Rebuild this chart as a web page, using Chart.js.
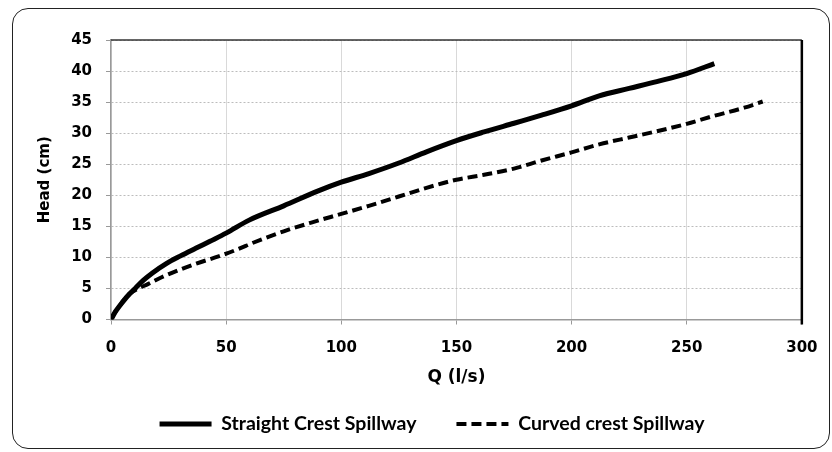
<!DOCTYPE html>
<html>
<head>
<meta charset="utf-8">
<script src="https://cdn.jsdelivr.net/npm/chart.js@4.4.0/dist/chart.umd.min.js"></script>
<style>
    html, body { margin: 0; padding: 0; background: #fff; }
    #wrap { position: relative; width: 832px; height: 452px; }
    #frame { position: absolute; left: 12px; top: 8px; width: 818px; height: 441px; border: 1px solid #222; border-radius: 16px; box-sizing: border-box; }
    #chart { position: absolute; left: 0; top: 0; }
</style>
</head>
<body>
<div id="wrap">
    <div id="frame"></div>
    <canvas id="chart" width="832" height="452"></canvas>
</div>
<script>
// discharge Q (l/s) and head (cm)
const straight_q = [0, 2, 5, 8, 10.5, 14, 18, 24, 30, 37, 43, 50, 60, 75, 90, 100, 112, 125, 137, 150, 162, 175, 187, 200, 212, 225, 237, 250, 262];
const straight_h = [0, 1.3, 2.8, 4.1, 5, 6.3, 7.5, 9, 10.2, 11.5, 12.6, 13.9, 16, 18.3, 20.7, 22.1, 23.5, 25.2, 27, 28.8, 30.2, 31.6, 32.9, 34.4, 36, 37.2, 38.3, 39.6, 41.2];

const curved_q = [0, 2, 5, 8, 12, 16, 22, 29, 37, 47, 55, 62, 75, 87, 100, 112, 125, 137, 150, 162, 175, 187, 200, 212, 225, 237, 250, 262, 275, 283];
const curved_h = [0, 1.3, 2.8, 4.1, 5, 5.7, 6.8, 7.9, 9, 10.2, 11.3, 12.4, 14.2, 15.6, 17, 18.3, 19.8, 21.2, 22.5, 23.3, 24.3, 25.6, 26.9, 28.2, 29.3, 30.3, 31.5, 32.8, 34.1, 35.1];

const x_ticks = [0, 50, 100, 150, 200, 250, 300];
const y_ticks = [0, 5, 10, 15, 20, 25, 30, 35, 40, 45];

const labels = ['Straight Crest Spillway', 'Curved crest Spillway'];

function toPoints(qs, hs) {
    let pts = [];
    qs.forEach((q, i) => {
        pts.push({x: q, y: hs[i]});
    });
    return pts;
}

const tickFont = {family: 'DejaVu Sans', size: 15, weight: 'bold'};

// top + right frame of the plot area
const plotFrame = {
    id: 'plotFrame',
    afterDraw(chart) {
        const {ctx, chartArea: a} = chart;
        ctx.save();
        ctx.strokeStyle = '#333';
        ctx.lineWidth = 1.5;
        ctx.beginPath();
        ctx.moveTo(a.left, a.top);
        ctx.lineTo(a.right, a.top);
        ctx.stroke();
        ctx.strokeStyle = '#000';
        ctx.lineWidth = 2.5;
        ctx.beginPath();
        ctx.moveTo(a.right, a.top);
        ctx.lineTo(a.right, a.bottom + 5);
        ctx.stroke();
        ctx.restore();
    }
};

const ctx = document.getElementById('chart').getContext('2d');

new Chart(ctx, {
    type: 'line',
    data: {
        datasets: [
            {
                label: labels[0],
                data: toPoints(straight_q, straight_h),
                borderColor: '#000',
                backgroundColor: '#000',
                borderWidth: 5,
                pointRadius: 0,
                tension: 0.4,
                cubicInterpolationMode: 'monotone'
            },
            {
                label: labels[1],
                data: toPoints(curved_q, curved_h),
                borderColor: '#000',
                backgroundColor: '#000',
                borderWidth: 4,
                borderDash: [10, 5],
                pointRadius: 0,
                tension: 0.4,
                cubicInterpolationMode: 'monotone'
            }
        ]
    },
    options: {
        responsive: false,
        animation: false,
        layout: {
            padding: {left: 62, top: 40, right: 30, bottom: 8.25}
        },
        plugins: {
            tooltip: {enabled: false},
            legend: {
                position: 'bottom',
                labels: {
                    usePointStyle: true,
                    pointStyle: 'line',
                    pointStyleWidth: 52,
                    padding: 40,
                    color: '#000',
                    font: {family: 'Lato', size: 19.5, weight: 'bold'},
                    generateLabels: (chart) => {
                        let items = Chart.defaults.plugins.legend.labels.generateLabels(chart);
                        items.forEach((item, i) => {
                            const ds = chart.data.datasets[i];
                            item.lineDash = ds.borderDash || [];
                            item.lineWidth = ds.borderWidth;
                            item.strokeStyle = ds.borderColor;
                        });
                        return items;
                    }
                }
            }
        },
        scales: {
            x: {
                type: 'linear',
                min: 0,
                max: 300,
                afterBuildTicks: (scale) => { scale.ticks = x_ticks.map(v => ({value: v})); },
                afterFit: (scale) => { scale.height = 54.75; },
                ticks: {color: '#000', font: tickFont, padding: 14.5},
                grid: {color: '#d9d9d9', lineWidth: 1, tickLength: 5, tickColor: '#999'},
                border: {color: '#999', width: 1.5},
                title: {
                    display: true,
                    text: 'Q (l/s)',
                    color: '#000',
                    font: {family: 'DejaVu Sans', size: 17, weight: 'bold'},
                    padding: {top: 0, bottom: -14}
                }
            },
            y: {
                min: 0,
                max: 45,
                afterBuildTicks: (scale) => { scale.ticks = y_ticks.map(v => ({value: v})); },
                afterFit: (scale) => { scale.width = 49; },
                ticks: {color: '#000', font: tickFont, padding: 14},
                grid: {color: '#bcbcbc', lineWidth: 1, tickLength: 5, tickColor: '#999'},
                border: {color: '#999', width: 1.5, dash: [2, 2]},
                title: {
                    display: true,
                    text: 'Head (cm)',
                    color: '#000',
                    font: {family: 'DejaVu Sans', size: 15, weight: 'bold'},
                    padding: {top: -26, bottom: 0}
                }
            }
        }
    },
    plugins: [plotFrame]
});
</script>
</body>
</html>
